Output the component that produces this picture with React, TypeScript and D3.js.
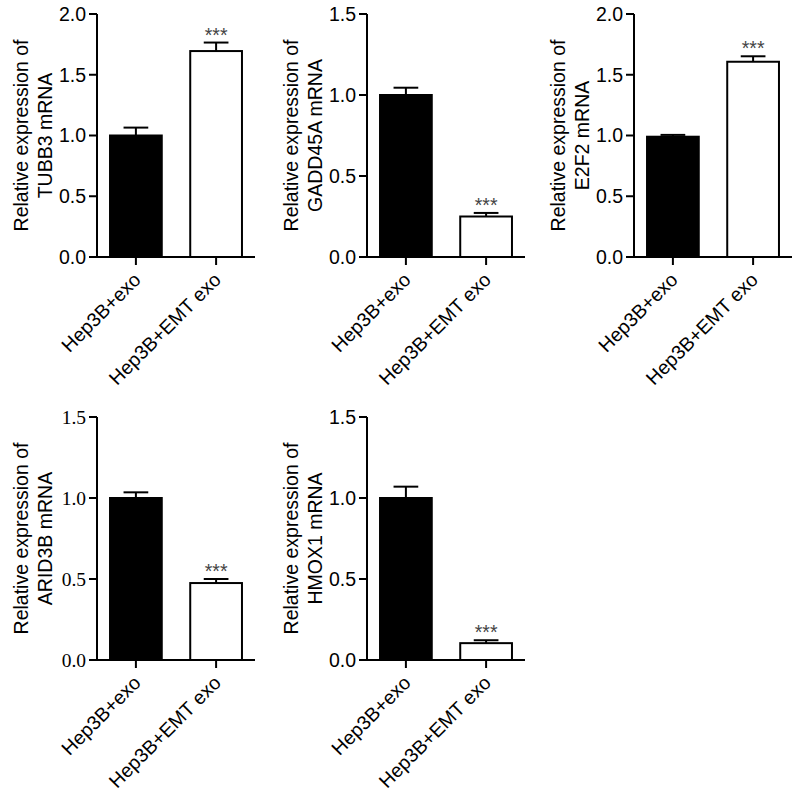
import React from "react";
import * as d3 from "d3";

const genes = ["TUBB3", "GADD45A", "E2F2", "ARID3B", "HMOX1"];
const groups = ["Hep3B+exo", "Hep3B+EMT exo"];
const controlMeans = [1.0, 1.0, 0.99, 1.0, 1.0];
const controlErrs = [0.065, 0.045, 0.015, 0.035, 0.07];
const emtMeans = [1.695, 0.25, 1.607, 0.475, 0.104];
const emtErrs = [0.07, 0.022, 0.045, 0.025, 0.018];
const yMaxes = [2.0, 1.5, 2.0, 1.5, 1.5];
const significance = ["***", "***", "***", "***", "***"];
const tickFonts = ["sans", "sans", "sans", "serif", "sans"];

const panelX = [97, 367, 634, 97, 367];
const panelY = [14, 14, 14, 417, 417];
const plotH = 243;
const plotW = 158;

const SANS = "'Liberation Sans', Arial, Helvetica, sans-serif";
const SERIF = "'Liberation Serif', 'Times New Roman', serif";
const FS = 19.5;

function Panel({ i }: { i: number }) {
  const x = d3.scaleBand<string>().domain(groups).range([0, plotW]).paddingInner(0.33).paddingOuter(0.15);
  const y = d3.scaleLinear().domain([0, yMaxes[i]]).range([plotH, 0]);
  const ticks = d3.range(0, yMaxes[i] + 0.001, 0.5);
  const vals = [controlMeans[i], emtMeans[i]];
  const errs = [controlErrs[i], emtErrs[i]];
  const bw = x.bandwidth();
  const capW = bw * 0.46;
  const tickFont = tickFonts[i] === "serif" ? SERIF : SANS;
  const sx = (g: string) => (x(g) as number) + bw / 2;
  return (
    <g transform={`translate(${panelX[i]},${panelY[i]})`}>
      {groups.map((g, j) => {
        const top = y(vals[j]);
        const et = y(vals[j] + errs[j]);
        const cx = sx(g);
        return (
          <g key={g}>
            <line x1={cx} x2={cx} y1={top} y2={et} stroke="#000" strokeWidth={2} />
            <line x1={cx - capW / 2} x2={cx + capW / 2} y1={et} y2={et} stroke="#000" strokeWidth={2} />
            <rect
              x={(x(g) as number) + 1}
              y={top}
              width={bw - 2}
              height={plotH - top}
              fill={j === 0 ? "#000" : "#fff"}
              stroke="#000"
              strokeWidth={2}
            />
            {j === 1 && (
              <text
                x={cx}
                y={et - 1}
                textAnchor="middle"
                fontFamily={SANS}
                fontSize={FS}
                fill="#444"
              >
                {significance[i]}
              </text>
            )}
          </g>
        );
      })}
      <line x1={0} x2={0} y1={0} y2={plotH + 1} stroke="#000" strokeWidth={2} />
      {ticks.map((t) => (
        <g key={t} transform={`translate(0,${y(t)})`}>
          <line x1={-8} x2={0} stroke="#000" strokeWidth={2} />
          <text x={-11} dy="0.35em" textAnchor="end" fontFamily={tickFont} fontSize={FS} fill="#000">
            {t.toFixed(1)}
          </text>
        </g>
      ))}
      <line x1={-1} x2={plotW} y1={plotH} y2={plotH} stroke="#000" strokeWidth={2} />
      {groups.map((g) => (
        <g key={g}>
          <line x1={sx(g)} x2={sx(g)} y1={plotH} y2={plotH + 8} stroke="#000" strokeWidth={2} />
          <text
            transform={`translate(${sx(g) + 6},${plotH + 24}) rotate(-45)`}
            textAnchor="end"
            fontFamily={SANS}
            fontSize={FS}
            fill="#000"
          >
            {g}
          </text>
        </g>
      ))}
      <text
        transform={`translate(${-69},${plotH / 2}) rotate(-90)`}
        textAnchor="middle"
        fontFamily={SANS}
        fontSize={FS}
        fill="#000"
      >
        Relative expression of
      </text>
      <text
        transform={`translate(${-45},${plotH / 2}) rotate(-90)`}
        textAnchor="middle"
        fontFamily={SANS}
        fontSize={FS}
        fill="#000"
      >
        {`${genes[i]} mRNA`}
      </text>
    </g>
  );
}

export default function App() {
  return (
    <svg
      width={800}
      height={799}
      style={{ position: "absolute", left: 0, top: 0, background: "#fff" }}
    >
      <rect width={800} height={799} fill="#fff" />
      {genes.map((_, i) => (
        <Panel key={i} i={i} />
      ))}
    </svg>
  );
}
